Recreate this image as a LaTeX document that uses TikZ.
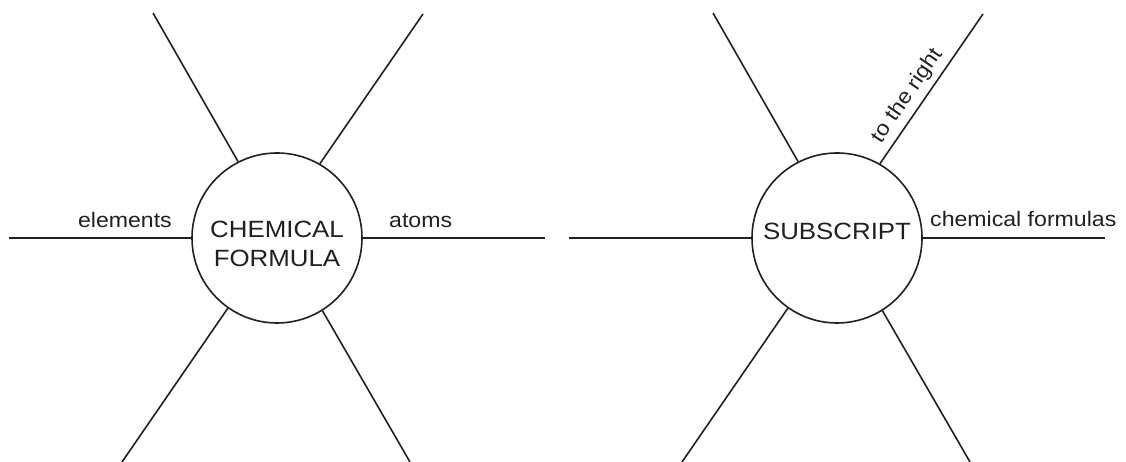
\documentclass[tikz,border=0pt]{standalone}
\usepackage{fontspec}
\setmainfont[FakeStretch=1.1]{Liberation Sans}
\usepackage{tikz}
\usetikzlibrary{positioning}
\definecolor{inkgrey}{RGB}{35,31,32}

\begin{document}
\begin{tikzpicture}[x=1pt, y=1pt,
  hub/.style={circle, draw=inkgrey, line width=1.6pt, minimum size=170pt, inner sep=0pt,
    align=center, text=inkgrey, font=\fontsize{23.5}{29}\selectfont},
  leg/.style={draw=inkgrey, line width=1.6pt},
  lbl/.style={inner sep=0pt, text=inkgrey, font=\fontsize{21}{25}\selectfont}]
\useasboundingbox (0,0) rectangle (1126,462);
\node[hub] (cf) at (277,224) {\rule{0pt}{29pt}CHEMICAL\\FORMULA};
\node[hub] (sub) at (837,224) {\rule[-14pt]{0pt}{14pt}SUBSCRIPT};
% free ends of the legs
\foreach \h/\cx in {cf/277, sub/837} {
  \coordinate (\h-tl) at (\cx-124,449);
  \coordinate (\h-tr) at (\cx+146,448);
  \coordinate (\h-l) at (\cx-268,224);
  \coordinate (\h-r) at (\cx+268,224);
  \coordinate (\h-bl) at (\cx-155,0);
  \coordinate (\h-br) at (\cx+133,0);
}
\foreach \h in {cf,sub}
  \foreach \a/\e in {117/tl, 60/tr, 180/l, 0/r, 235/bl, 302/br}
    \draw[leg] (\h.\a) -- (\h-\e);
\node[lbl, anchor=base east] (elem) at (172,234) {elements};
\node[lbl, anchor=base west] (atom) at (389,234) {atoms};
\node[lbl, anchor=base west] (chfo) at (930,235) {chemical formulas};
\node[lbl, anchor=base, rotate=55.6] (right) at (912,363) {to the right};
\end{tikzpicture}
\end{document}
